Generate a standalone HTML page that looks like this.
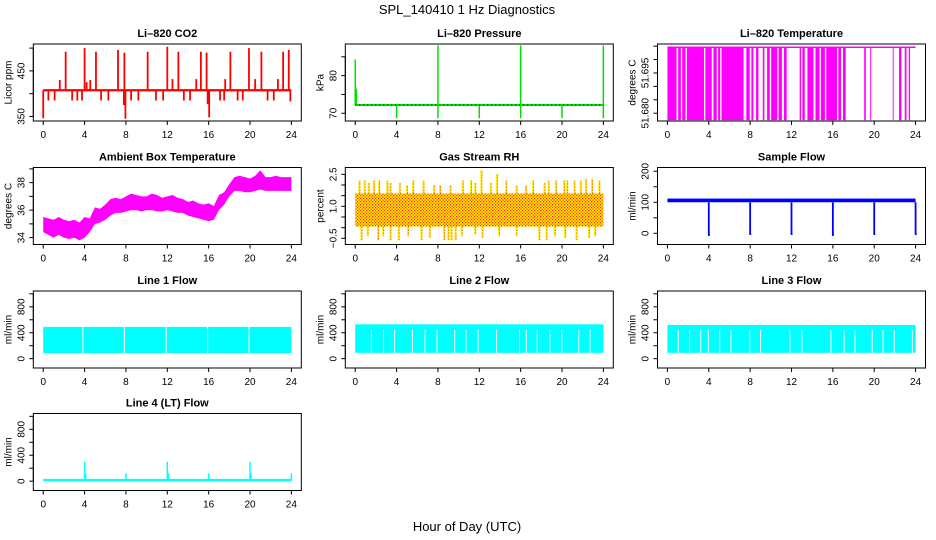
<!DOCTYPE html>
<html><head><meta charset="utf-8"><style>
html,body{margin:0;padding:0;background:#fff;}
svg{display:block;font-family:"Liberation Sans",sans-serif;}
</style></head><body>
<svg id="chart" width="936" height="540" viewBox="0 0 936 540">
<defs>
<pattern id="rhdots" width="3" height="3" patternUnits="userSpaceOnUse"><rect x="0" y="0" width="1.2" height="1.2" fill="#ff2020"/><rect x="1.5" y="1.5" width="1.2" height="1.2" fill="#ff2020"/></pattern>
</defs>
<text x="467" y="14" font-size="13" text-anchor="middle">SPL_140410  1 Hz Diagnostics</text>
<text x="467" y="531" font-size="13" text-anchor="middle">Hour of Day (UTC)</text>
</svg>
<script>
// ---- data arrays ----
var xTicks = [0,4,8,12,16,20,24];
// CO2
var co2Base = [405,410];
var co2SpikeH = [2.17,4.0,5.1,7.23,7.85,10.1,12.0,13.07,15.25,15.8,18.1,19.9,21.1,23.2,23.75,1.6,4.55,12.5,14.8,17.6,20.5,22.7,4.2,0.0,7.95,16.05,7.8,15.9,0.5,1.1,2.8,3.3,3.75,5.6,6.3,8.5,9.2,10.9,11.6,13.6,14.2,17.1,17.5,18.8,19.3,21.7,22.3,23.9];
var co2SpikeV = [492,500,492,496,490,492,503,492,492,490,492,500,492,492,496,430,430,432,432,432,432,432,425,346,345,348,375,377,385,385,385,385,385,385,385,385,385,385,385,385,385,385,385,385,385,385,385,383];
// Pressure
var presBase = 72.2;
var presUpH = [0.0,0.1,8.0,16.0,24.0];
var presUpV = [84.3,76.5,88.0,88.0,88.0];
var presDownH = [4.0,8.0,12.0,16.0,20.0,24.0];
var presDownV = [68.7,68.7,68.7,68.7,68.7,68.7];
// Li-820 temperature: filled intervals [start,end] hours
var tempStart = [0,1.04,1.43,1.88,3.67,4.45,4.9,5.23,7.63,8.12,8.57,9.22,9.64,10.03,10.75,11.27,12.79,13.05,13.54,14.32,14.84,15.36,16.53,16.98,19.03,19.61,21.79,22.4,22.95,23.34];
var tempEnd   = [0.88,1.3,1.75,3.54,4.29,4.77,5.1,7.37,7.96,8.31,8.8,9.38,9.9,10.62,11.07,11.53,12.92,13.28,14.12,14.71,15.23,16.4,16.79,17.24,19.19,19.71,21.88,22.63,23.12,23.47];
var tempHigh = 51.7046, tempLow = 51.6774;
// Ambient box temperature
var ambHours = [0,0.5,1,1.5,2,2.5,3,3.5,4,4.5,5,5.5,6,6.5,7,7.5,8,8.5,9,9.5,10,10.5,11,11.5,12,12.5,13,13.5,14,14.5,15,15.5,16,16.5,17,17.5,18,18.5,19,19.5,20,20.5,21,21.5,22,22.5,23,23.5,24];
var ambHigh = [35.5,35.4,35.3,35.5,35.3,35.2,35.3,35.1,35.5,35.4,36.2,36.1,36.4,36.8,36.9,36.8,37.0,37.2,37.1,37.0,37.0,37.2,37.1,36.9,37.0,37.1,36.9,36.8,36.6,36.7,36.5,36.4,36.5,36.3,37.1,37.3,37.9,38.4,38.5,38.4,38.3,38.5,38.9,38.4,38.4,38.5,38.4,38.4,38.4];
var ambLow = [34.4,34.2,34.0,34.2,34.0,33.9,34.0,33.8,34.0,34.4,35.0,35.1,35.3,35.6,35.8,35.8,35.9,36.0,36.0,35.9,36.0,36.0,35.9,35.9,36.0,35.9,35.8,35.8,35.6,35.5,35.4,35.3,35.2,35.3,36.0,36.4,37.0,37.4,37.4,37.3,37.3,37.4,37.5,37.4,37.4,37.4,37.4,37.4,37.4];
// Gas stream RH
var rhLow = 0.05, rhHigh = 1.6;
var rhUpH = [0.4,0.9,1.3,1.8,2.3,3.1,3.4,4.3,5.0,5.6,6.6,7.6,8.2,9.2,10.4,11.2,11.6,12.2,13.1,13.7,14.6,15.6,16.5,17.2,18.3,18.7,19.4,20.2,20.5,21.2,21.8,22.3,22.9,23.6];
var rhUpV = [2.2,2.2,2.1,2.2,2.2,2.2,2.1,2.1,2.0,2.2,2.2,2.0,2.0,2.0,2.2,2.2,2.1,2.7,2.1,2.5,2.2,2.0,2.0,2.2,2.1,2.2,2.2,2.2,2.2,2.2,2.2,2.3,2.3,2.2];
var rhDownH = [0.6,1.2,2.2,2.7,3.4,4.2,5.1,6.4,7.2,8.6,9.0,9.3,9.7,10.3,11.6,12.3,13.9,15.6,17.8,18.5,19.3,20.3,21.4,22.6,23.2];
var rhDownV = [-0.6,-0.4,-0.6,-0.4,-0.6,-0.6,-0.4,-0.6,-0.5,-0.6,-0.6,-0.6,-0.6,-0.4,-0.3,-0.5,-0.4,-0.4,-0.6,-0.6,-0.4,-0.5,-0.6,-0.5,-0.4];
// Sample flow
var sfLow = 100, sfHigh = 112;
var sfDropH = [4,8,12,16,20,24];
var sfDropV = [-8,-5,-5,-8,-5,-5];
// Line flows
var l1Low = 85, l1High = 490, l1Gaps = [3.83,7.85,11.9,15.9,19.9];
var l2Low = 90, l2High = 530, l2Gaps = [1.56,2.73,3.81,5.53,6.74,7.91,9.62,10.71,11.88,13.67,15.89,16.55,17.6,18.82,19.98,21.62,22.71];
var l3Low = 90, l3High = 520, l3Gaps = [1.05,2.14,3.22,3.96,5.05,6.14,7.96,9.01,11.84,13.01,15.81,17.09,18.14,19.81,20.85,21.94,23.69];
var l4Base = 10;
var l4SpikeH = [4.0,4.1,8.0,12.0,12.1,16.0,20.0,20.1,24.0];
var l4SpikeV = [300,120,120,300,120,120,300,120,120];

// ---- drawing ----
var svg = document.getElementById('chart');
var NS = 'http://www.w3.org/2000/svg';
function mk(tag, attrs, parent){
  var e = document.createElementNS(NS, tag);
  for (var k in attrs) e.setAttribute(k, attrs[k]);
  (parent||svg).appendChild(e);
  return e;
}
var colLeft = [33.3,345.3,657.5], rowTop = [44,167.5,291,413.5], W = 268, H = 77;

function Panel(c, r, name, title, ytitle, ymin, ymax, yticks, ylabels){
  var p = {};
  var g = mk('g', {});
  
  
  p.g = g;
  var L = colLeft[c], T = rowTop[r];
  p.x = function(h){ return L + (h + 0.96) / 25.92 * W; };
  p.y = function(v){ return T + H - (v - ymin) / (ymax - ymin) * H; };
  p.L = L; p.T = T;
  var t = mk('text', {x: L + W/2, y: T - 7, 'font-size': 11, 'font-weight': 'bold', 'text-anchor': 'middle'}, g);
  t.textContent = title;
  
  
  var xa = mk('g', {}, g);
  
  
  mk('line', {x1: p.x(0), x2: p.x(24), y1: T+H, y2: T+H, stroke: '#000'}, xa);
  xTicks.forEach(function(v){
    mk('line', {x1: p.x(v), x2: p.x(v), y1: T+H, y2: T+H+4, stroke: '#000'}, xa);
    var tl = mk('text', {x: p.x(v), y: T+H+17, 'font-size': 10, 'text-anchor': 'middle'}, xa);
    tl.textContent = v;
    
    
  });
  var ya = mk('g', {}, g);
  
  
  mk('line', {x1: L, x2: L, y1: p.y(yticks[0]), y2: p.y(yticks[yticks.length-1]), stroke: '#000'}, ya);
  yticks.forEach(function(v){
    mk('line', {x1: L-4, x2: L, y1: p.y(v), y2: p.y(v), stroke: '#000'}, ya);
  });
  ylabels.forEach(function(lb){
    var yy = p.y(lb[0]);
    var tl = mk('text', {x: L-9, y: yy, 'font-size': 10, 'text-anchor': 'middle', transform: 'rotate(-90 ' + (L-9) + ' ' + yy + ')'}, ya);
    tl.textContent = lb[1];
    
    
  });
  var yt = mk('text', {x: L-22, y: T+H/2, 'font-size': 10, 'text-anchor': 'middle', transform: 'rotate(-90 ' + (L-22) + ' ' + (T+H/2) + ')'}, g);
  yt.textContent = ytitle;
  
  
  p.data = mk('g', {}, g);
  
  
  p.finish = function(){
    var b = mk('rect', {x: L, y: T, width: W, height: H, fill: 'none', stroke: '#000'}, g);
    
    
  };
  return p;
}
function vline(p, h, v1, v2, col, w){
  return mk('line', {x1: p.x(h), x2: p.x(h), y1: p.y(v1), y2: p.y(v2), stroke: col, 'stroke-width': w||1.5}, p.data);
}
function band(p, h1, h2, v1, v2, col){
  var x1 = p.x(h1), x2 = p.x(h2), y1 = p.y(v2), y2 = p.y(v1);
  return mk('rect', {x: Math.min(x1,x2), y: Math.min(y1,y2), width: Math.abs(x2-x1), height: Math.abs(y2-y1), fill: col}, p.data);
}

var p = Panel(0,0,'co2','Li\u2013820 CO2','Licor ppm',340,509,[350,400,450,500],[[350,'350'],[450,'450']]);
co2SpikeH.forEach(function(h,i){ var l = vline(p, h, (co2Base[0]+co2Base[1])/2, co2SpikeV[i], '#ff0000', 1.8);   });
var b = band(p, 0, 24, co2Base[0], co2Base[1], '#ff0000');


p.finish();

p = Panel(1,0,'pressure','Li\u2013820 Pressure','kPa',67.95,88.4,[70,75,80,85],[[70,'70'],[80,'80']]);
presUpH.forEach(function(h,i){ var l = vline(p, h, presBase, presUpV[i], '#00e000', 1.5);   });
presDownH.forEach(function(h,i){ var l = vline(p, h, presBase, presDownV[i], '#00e000', 1.5);   });
var pl = mk('line', {x1: p.x(0), x2: p.x(24), y1: p.y(presBase), y2: p.y(presBase), stroke: '#00e000', 'stroke-width': 2}, p.data);


mk('line', {x1: p.x(0), x2: p.x(24), y1: p.y(presBase), y2: p.y(presBase), stroke: '#000', 'stroke-width': 1, 'stroke-dasharray': '1 3'}, p.data);
p.finish();

p = Panel(2,0,'li820-temp','Li\u2013820 Temperature','degrees C',51.6771,51.7058,[51.680,51.685,51.690,51.695,51.700,51.705],[[51.680,'51.680'],[51.695,'51.695']]);
tempStart.forEach(function(s,i){ var r = band(p, s, tempEnd[i], tempLow, tempHigh, '#ff00ff');   });
var tl = mk('line', {x1: p.x(0), x2: p.x(24), y1: p.y(tempHigh), y2: p.y(tempHigh), stroke: '#ff00ff', 'stroke-width': 1.5}, p.data);


p.finish();

p = Panel(0,1,'ambient-temp','Ambient Box Temperature','degrees C',33.5,39.1,[34,35,36,37,38,39],[[34,'34'],[36,'36'],[38,'38']]);
var pts = ambHours.map(function(h,i){ return p.x(h)+','+p.y(ambHigh[i]); });
for (var i = ambHours.length-1; i >= 0; i--) pts.push(p.x(ambHours[i])+','+p.y(ambLow[i]));
var ap = mk('polygon', {points: pts.join(' '), fill: '#ff00ff'}, p.data);


p.finish();

p = Panel(1,1,'gas-rh','Gas Stream RH','percent',-0.79,2.82,[-0.5,0,0.5,1,1.5,2,2.5],[[-0.5,'\u22120.5'],[1,'1.0'],[2.5,'2.5']]);
rhUpH.forEach(function(h,i){ var l = vline(p, h, rhHigh, rhUpV[i], '#ffee00', 2);   mk('line',{x1:p.x(h)+0.5,x2:p.x(h)+0.5,y1:p.y(rhHigh),y2:p.y(rhUpV[i]),stroke:'#ff2020','stroke-width':1,'stroke-dasharray':'1 2'},p.data); });
rhDownH.forEach(function(h,i){ var l = vline(p, h, rhLow, rhDownV[i], '#ffee00', 2);   mk('line',{x1:p.x(h)+0.5,x2:p.x(h)+0.5,y1:p.y(rhLow),y2:p.y(rhDownV[i]),stroke:'#ff2020','stroke-width':1,'stroke-dasharray':'1 2'},p.data); });
var rb = band(p, 0, 24, rhLow, rhHigh, '#ffee00');


band(p, 0, 24, rhLow, rhHigh, 'url(#rhdots)');
p.finish();

p = Panel(2,1,'sample-flow','Sample Flow','ml/min',-36,212,[0,50,100,150,200],[[0,'0'],[100,'100'],[200,'200']]);
sfDropH.forEach(function(h,i){ var l = vline(p, h, sfLow, sfDropV[i], '#0000ff', 1.8);   band(p, h-0.05, h+0.1, sfDropV[i], 0, '#0000ff'); });
var sb = band(p, 0, 24, sfLow, sfHigh, '#0000ff');


p.finish();

function flowPanel(c, r, name, title, lo, hi, gaps, gapTop){
  var q = Panel(c, r, name, title, 'ml/min', -144, 1044, [0,200,400,600,800,1000], [[0,'0'],[400,'400'],[800,'800']]);
  var fb = band(q, 0, 24, lo, hi, '#00ffff');
  
  
  gaps.forEach(function(h){ var l = vline(q, h, lo - 5, gapTop, '#ffffff', 1);   });
  q.finish();
  return q;
}
flowPanel(0,2,'line1-flow','Line 1 Flow', l1Low, l1High, l1Gaps, l1High+5);
flowPanel(1,2,'line2-flow','Line 2 Flow', l2Low, l2High, l2Gaps, 450);
flowPanel(2,2,'line3-flow','Line 3 Flow', l3Low, l3High, l3Gaps, 440);

p = Panel(0,3,'line4-flow','Line 4 (LT) Flow','ml/min',-144,1044,[0,200,400,600,800,1000],[[0,'0'],[400,'400'],[800,'800']]);
l4SpikeH.forEach(function(h,i){ var l = vline(p, h, l4Base, l4SpikeV[i], '#00ffff', 1.5);   });
var lb4 = band(p, 0, 24, l4Base-12, l4Base+25, '#00ffff');


p.finish();
</script>
</body></html>
